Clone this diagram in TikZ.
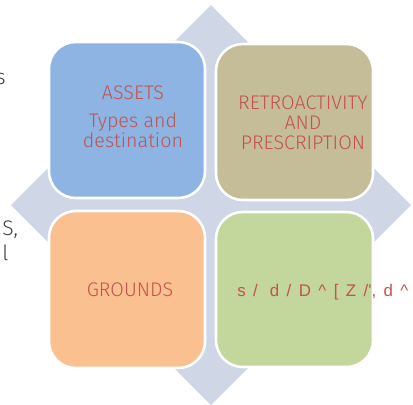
\documentclass[tikz,border=0pt]{standalone}
\usepackage{fontspec}
\setmainfont{Liberation Sans}
\newfontfamily\thinsans{Fira Sans Light}
\newfontfamily\spacedsans[LetterSpace=44]{Liberation Sans}

\definecolor{diamondgray}{RGB}{207,214,229}
\definecolor{tileblue}{RGB}{141,180,226}
\definecolor{tiletan}{RGB}{196,189,151}
\definecolor{tileorange}{RGB}{250,192,144}
\definecolor{tilegreen}{RGB}{195,214,155}
\definecolor{labelred}{RGB}{195,82,80}
\definecolor{slidetext}{RGB}{64,64,64}

\tikzset{
  tile/.style={draw=white, line width=1.8pt, rounded corners=19pt},
  tilelabel/.style={font=\thinsans\fontsize{14}{14.2}\selectfont, text=labelred, align=center, inner sep=0pt},
  slidefrag/.style={font=\thinsans\fontsize{15}{16}\selectfont, text=slidetext, inner sep=0pt},
}

\begin{document}
\begin{tikzpicture}[x=0.025cm, y=-0.025cm]
  \useasboundingbox (0,0) rectangle (413,404);
  % diamond behind the matrix
  \fill[diamondgray] (211,5) -- (411,205) -- (211,405) -- (11,205) -- cycle;
  % four tiles
  \draw[tile, fill=tileblue] (49,42) rectangle (205,198);
  \draw[tile, fill=tiletan] (216,44) rectangle (373,200);
  \draw[tile, fill=tileorange] (49,211) rectangle (205,368);
  \draw[tile, fill=tilegreen] (216,212) rectangle (373,367);
  % tile texts (base = baseline of the last line)
  \node[tilelabel, anchor=base] (assets) at (133,147) {ASSETS\\[5.5pt]Types and\\destination};
  \node[tilelabel, anchor=base] (retro) at (303,149) {RETROACTIVITY\\AND\\PRESCRIPTION};
  \node[tilelabel, anchor=base] (grounds) at (130,296) {GROUNDS};
  \node[font=\spacedsans\fontsize{12}{14}\selectfont, text=labelred, inner sep=0pt, anchor=base west] (garbled) at (237,296) {s/ d/D\textasciicircum[Z/\textquotesingle,d\textasciicircum};
  % bits of slide text at the left edge
  \node[slidefrag, anchor=base east] (fraga) at (6,84) {s};
  \node[slidefrag, anchor=base west] (fragb) at (2,235) {S,};
  \node[slidefrag, anchor=base west] (fragc) at (2,260) {l};
\end{tikzpicture}
\end{document}
